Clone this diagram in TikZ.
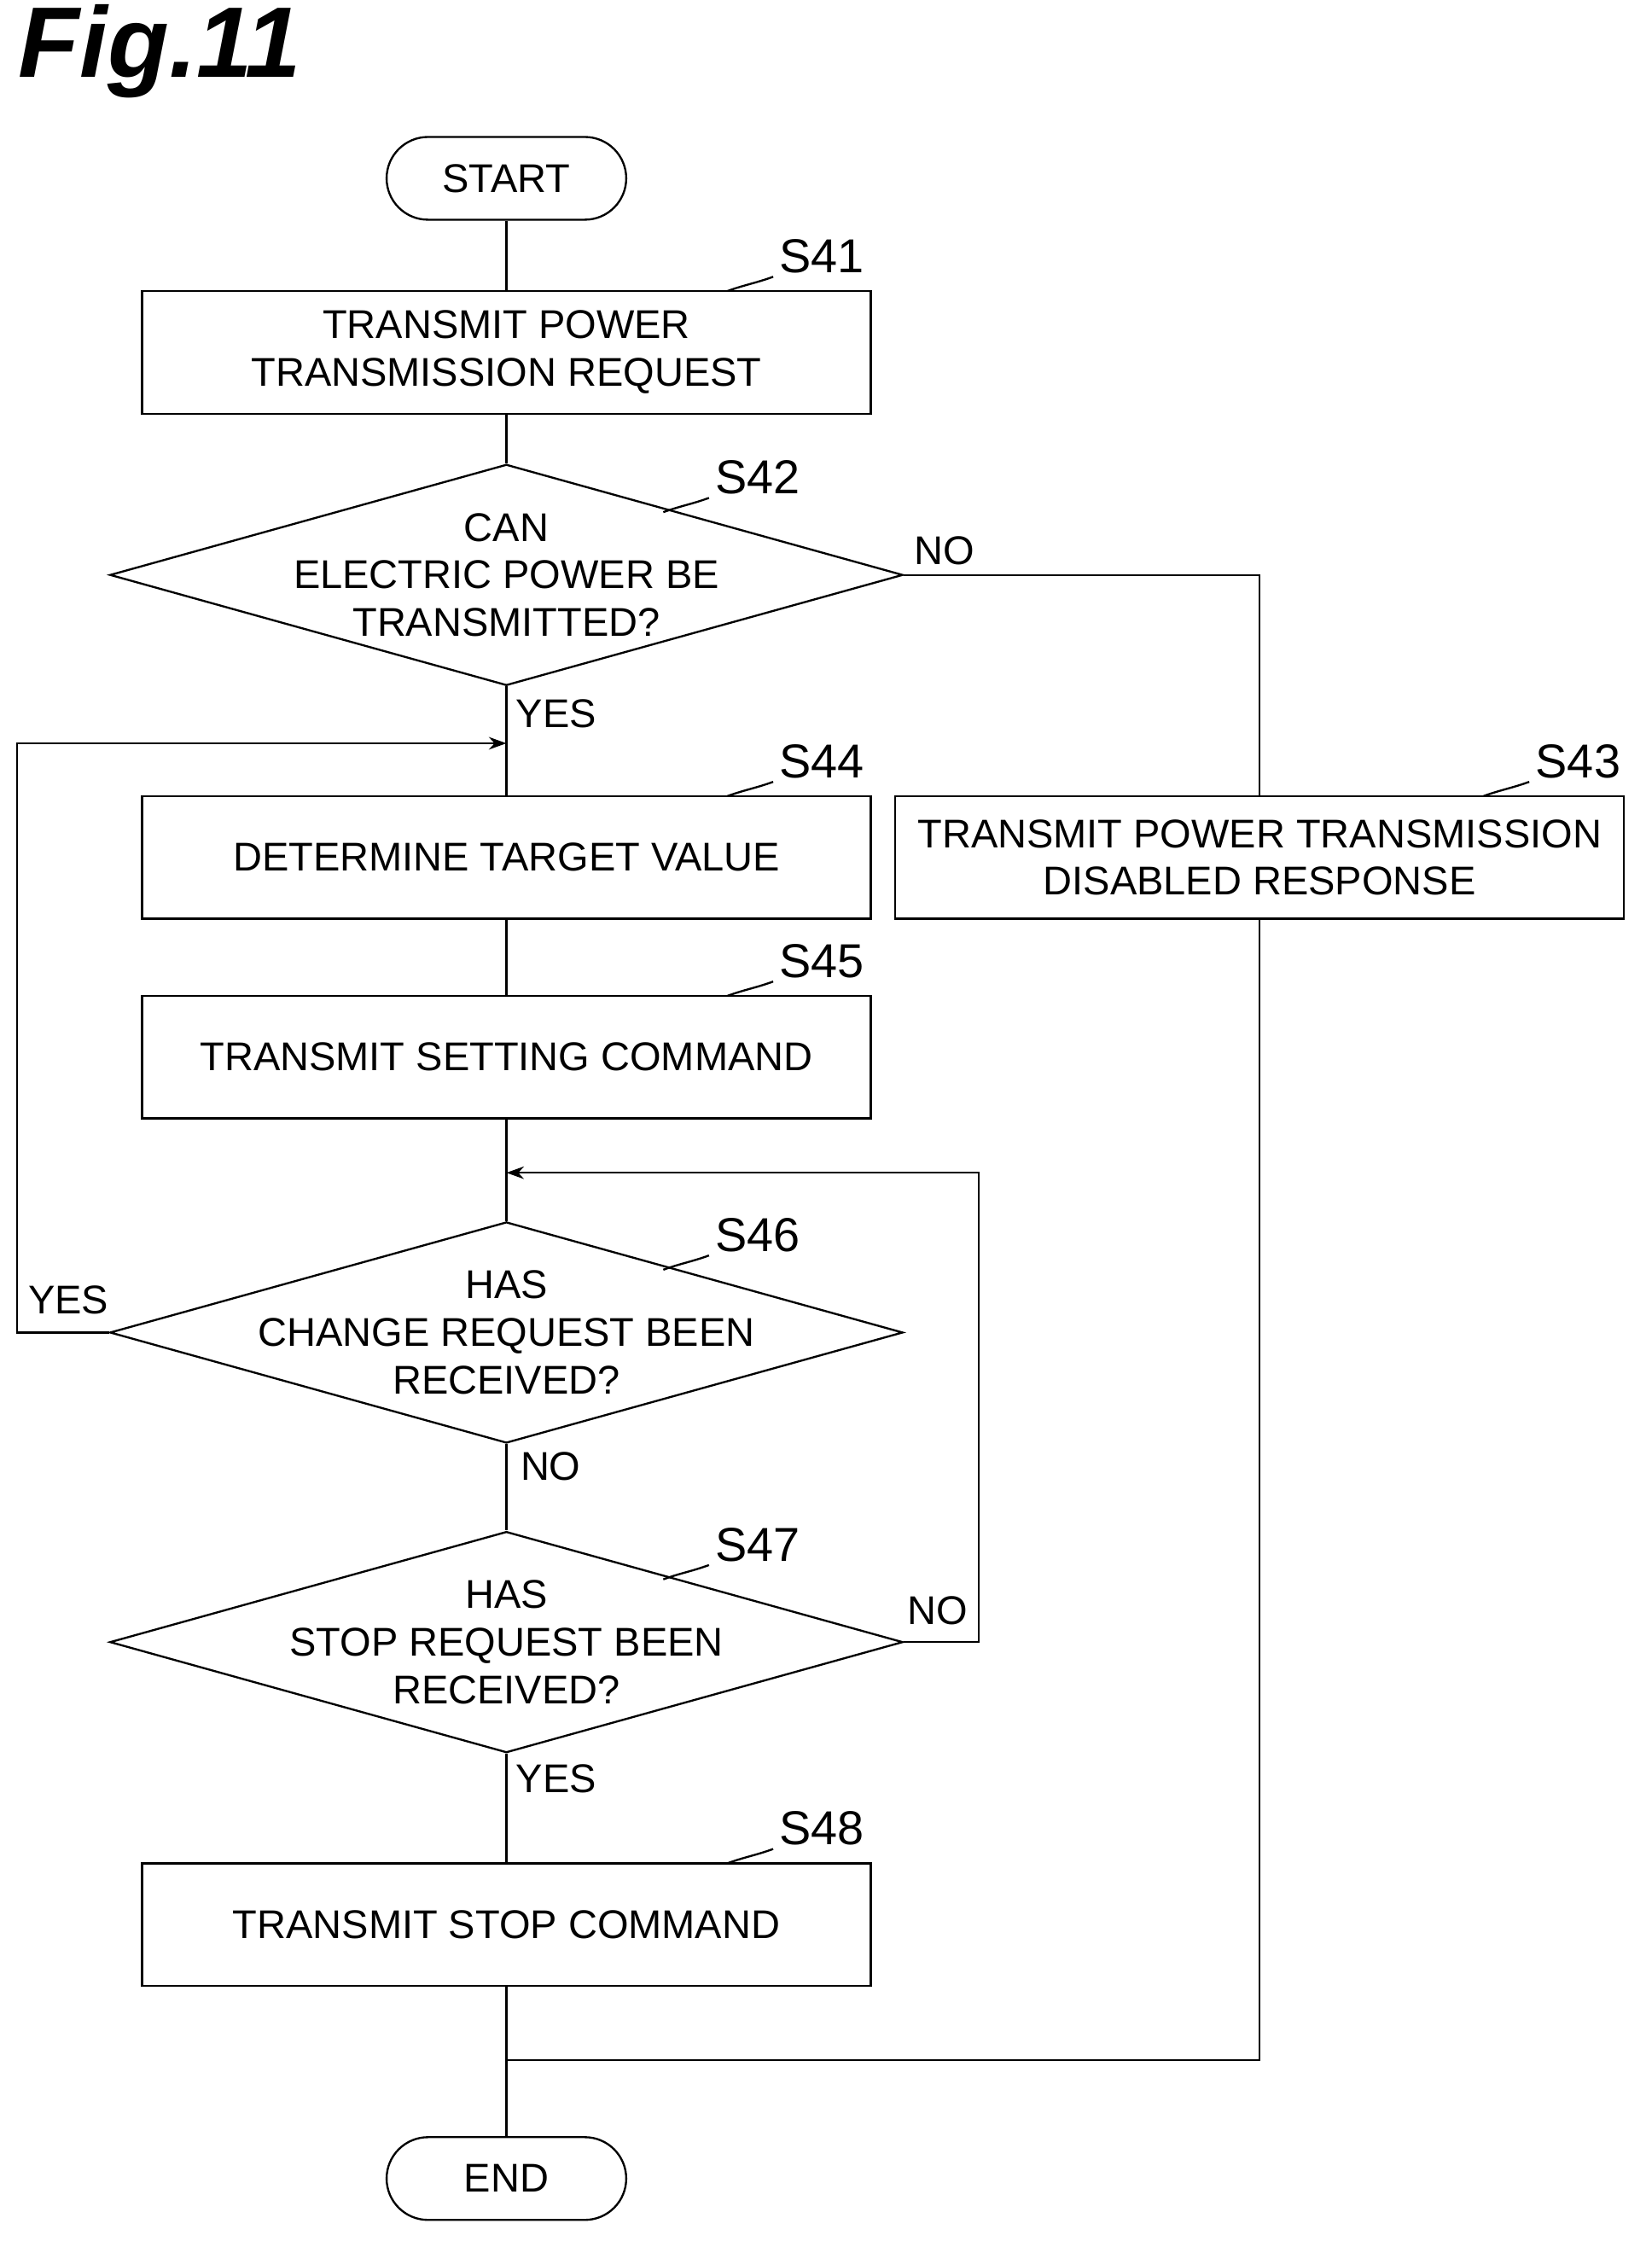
\documentclass[tikz,border=0pt]{standalone}
\usepackage{fontspec}
\setmainfont{Liberation Sans}
\usetikzlibrary{shapes.geometric, arrows.meta}
\tikzset{
	every node/.style={font=\fontsize{16}{19}\selectfont}, % flowchart text
	proc/.style={draw, minimum width=10.22cm, minimum height=1.72cm, align=center},
	term/.style={draw, rounded corners=0.58cm, minimum width=3.36cm, minimum height=1.16cm},
	dec/.style={draw, diamond, minimum width=11.12cm, minimum height=3.1cm, inner sep=0pt},
	steptag/.style={font=\fontsize{19}{22}\selectfont, anchor=south west},
	flow/.style={line width=0.8pt},
	>={Stealth[length=7pt, width=5pt]},
}
\newcommand{\steplabel}[3]{% name, position, text
	\node[steptag] (#1) at #2 {#3};
	\draw[flow] (#1.south west) ++(2,-4) to[out=200, in=20] ++(-32,10);
}
\begin{document}
\begin{tikzpicture}[x=0.02cm, y=-0.02cm, line width=0.8pt]
	\useasboundingbox (0,0) rectangle (1158,1575);
	\node[font=\bfseries\itshape\fontsize{40}{44}\selectfont] (fig) at (112,36) {Fig.11};
	% main column
	\node[term] (start) at (355,125) {START};
	\node[proc] (s41) at (355,247) {TRANSMIT POWER\\TRANSMISSION REQUEST};
	\node[dec] (s42) at (355,403) {};
	\node[align=center] at (s42) {CAN\\ELECTRIC POWER BE\\TRANSMITTED?};
	\node[proc] (s44) at (355,601) {DETERMINE TARGET VALUE};
	\node[proc] (s43) at (883,601) {TRANSMIT POWER TRANSMISSION\\DISABLED RESPONSE};
	\node[proc] (s45) at (355,741) {TRANSMIT SETTING COMMAND};
	\node[dec] (s46) at (355,934) {};
	\node[align=center] at (s46) {HAS\\CHANGE REQUEST BEEN\\RECEIVED?};
	\node[dec] (s47) at (355,1151) {};
	\node[align=center] at (s47) {HAS\\STOP REQUEST BEEN\\RECEIVED?};
	\node[proc] (s48) at (355,1349) {TRANSMIT STOP COMMAND};
	\node[term] (end) at (355,1527) {END};
	% step numbers
	\steplabel{l41}{(540,198)}{S41}
	\steplabel{l42}{(495,353)}{S42}
	\steplabel{l44}{(540,552)}{S44}
	\steplabel{l43}{(1070,552)}{S43}
	\steplabel{l45}{(540,692)}{S45}
	\steplabel{l46}{(495,884)}{S46}
	\steplabel{l47}{(495,1101)}{S47}
	\steplabel{l48}{(540,1300)}{S48}
	% junction points
	\coordinate (j1) at (355,521);
	\coordinate (j2) at (355,822);
	\coordinate (j3) at (355,1444);
	% connectors
	\draw[flow] (start) -- (s41);
	\draw[flow] (s41) -- (s42.north);
	\draw[flow] (s42.south) -- (s44);
	\draw[flow] (s44) -- (s45);
	\draw[flow] (s45) -- (s46.north);
	\draw[flow] (s46.south) -- (s47.north);
	\draw[flow] (s47.south) -- (s48);
	\draw[flow] (s48) -- (end);
	\draw[flow] (s42.east) -| (s43.north);
	\draw[flow] (s43.south) |- (j3);
	\draw[flow, ->] (s46.west) -- (12,934) |- (j1);
	\draw[flow, ->] (s47.east) -- (686,1151) |- (j2);
	% branch labels
	\node at (390,500) {YES};
	\node at (662,386) {NO};
	\node at (48,911) {YES};
	\node at (386,1028) {NO};
	\node at (657,1129) {NO};
	\node at (390,1247) {YES};
\end{tikzpicture}
\end{document}
